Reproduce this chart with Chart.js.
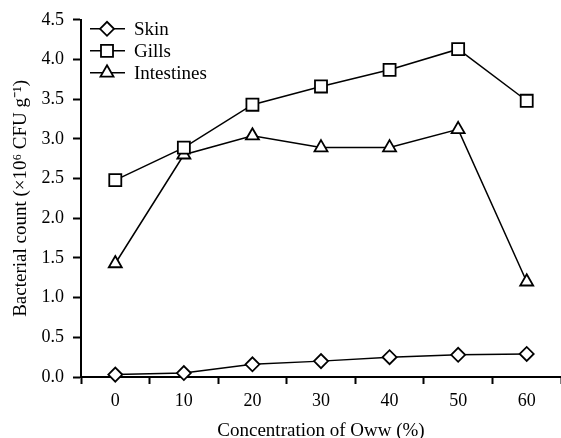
<!DOCTYPE html>
<html>
<head>
<meta charset="utf-8">
<script src="https://cdn.jsdelivr.net/npm/chart.js@4.4.0/dist/chart.umd.min.js"></script>
<style>
  html, body { margin: 0; padding: 0; background: #fff; overflow: hidden; }
  #chart { display: block; }
</style>
</head>
<body>
<canvas id="chart" width="561" height="438"></canvas>
<script>
// data
var concentrations = ['0', '10', '20', '30', '40', '50', '60'];
var skin       = [0.03, 0.05, 0.16, 0.20, 0.25, 0.28, 0.29];
var gills      = [2.48, 2.89, 3.43, 3.66, 3.87, 4.13, 3.48];
var intestines = [1.43, 2.80, 3.04, 2.89, 2.89, 3.12, 1.20];
var yTicks     = [0, 0.5, 1, 1.5, 2, 2.5, 3, 3.5, 4, 4.5];

var FONT = 'Liberation Serif, Times New Roman, serif';

function series(label, data, style, radius) {
    return {
        label: label,
        data: data,
        borderColor: '#000',
        borderWidth: 1.5,
        pointStyle: style,
        pointRadius: radius,
        pointHoverRadius: radius,
        pointBackgroundColor: '#fff',
        pointBorderColor: '#000',
        pointBorderWidth: 1.8,
        tension: 0,
        fill: false
    };
}

// let the x axis run to the right edge of the canvas, like the figure
var stretchX = {
    id: 'stretchX',
    afterLayout: function(chart) {
        var area = chart.chartArea, x = chart.scales.x;
        var extra = chart.width - area.right;
        if (!x || extra <= 0) return;
        area.right += extra;
        area.width += extra;
        x.right += extra;
        x.width += extra;
        x.configure();
    }
};

// legend with a short line + marker, drawn inside the plot (top left)
var inlineLegend = {
    id: 'inlineLegend',
    afterDraw: function(chart) {
        var ctx = chart.ctx;
        var area = chart.chartArea;
        var x0 = area.left + 9, y0 = area.top + 9, step = 22;
        ctx.save();
        chart.data.datasets.forEach(function(ds, i) {
            var y = y0 + i * step;
            ctx.strokeStyle = '#000';
            ctx.lineWidth = 1.5;
            ctx.beginPath();
            ctx.moveTo(x0, y);
            ctx.lineTo(x0 + 35, y);
            ctx.stroke();
            ctx.fillStyle = '#fff';
            ctx.strokeStyle = '#000';
            ctx.lineWidth = 1.8;
            Chart.helpers.drawPoint(ctx, { pointStyle: ds.pointStyle, radius: ds.pointRadius, borderWidth: 1.8 }, x0 + 17, y);
            ctx.fillStyle = '#000';
            ctx.font = '19px ' + FONT;
            ctx.textBaseline = 'middle';
            ctx.textAlign = 'left';
            ctx.fillText(ds.label, x0 + 44, y + 1);
        });
        ctx.restore();
    }
};

new Chart(document.getElementById('chart'), {
    type: 'line',
    data: {
        labels: concentrations,
        datasets: [
            series('Skin', skin, 'rectRot', 7),
            series('Gills', gills, 'rect', 8.5),
            series('Intestines', intestines, 'triangle', 7.5)
        ]
    },
    options: {
        responsive: false,
        animation: false,
        clip: false,
        layout: { padding: { top: 19, right: 0, left: 0, bottom: 0 } },
        plugins: {
            legend: { display: false },
            tooltip: { enabled: false }
        },
        scales: {
            x: {
                type: 'category',
                offset: true,
                grid: {
                    offset: true,
                    drawOnChartArea: false,
                    drawTicks: true,
                    tickLength: 7,
                    tickWidth: 2,
                    tickColor: '#000'
                },
                border: { color: '#000', width: 2 },
                ticks: {
                    color: '#000',
                    padding: 6,
                    maxRotation: 0,
                    font: { family: FONT, size: 18 }
                },
                title: {
                    display: true,
                    text: 'Concentration of Oww (%)',
                    color: '#000',
                    font: { family: FONT, size: 19 },
                    padding: { top: 4, bottom: -4 }
                },
                afterFit: function(scale) { scale.height = 61; }
            },
            y: {
                min: 0,
                max: 4.5,
                afterBuildTicks: function(scale) {
                    scale.ticks = yTicks.map(function(v) { return { value: v }; });
                },
                grid: {
                    drawOnChartArea: false,
                    drawTicks: true,
                    tickLength: 8,
                    tickWidth: 2,
                    tickColor: '#000'
                },
                border: { color: '#000', width: 2 },
                ticks: {
                    color: '#000',
                    padding: 9,
                    font: { family: FONT, size: 18 },
                    callback: function(v) { return Number(v).toFixed(1); }
                },
                title: {
                    display: true,
                    text: 'Bacterial count (×10⁶ CFU g⁻¹)',
                    color: '#000',
                    font: { family: FONT, size: 19 },
                    padding: { top: 10, bottom: 4 }
                },
                afterFit: function(scale) { scale.width = 81; }
            }
        }
    },
    plugins: [stretchX, inlineLegend]
});
</script>
</body>
</html>
